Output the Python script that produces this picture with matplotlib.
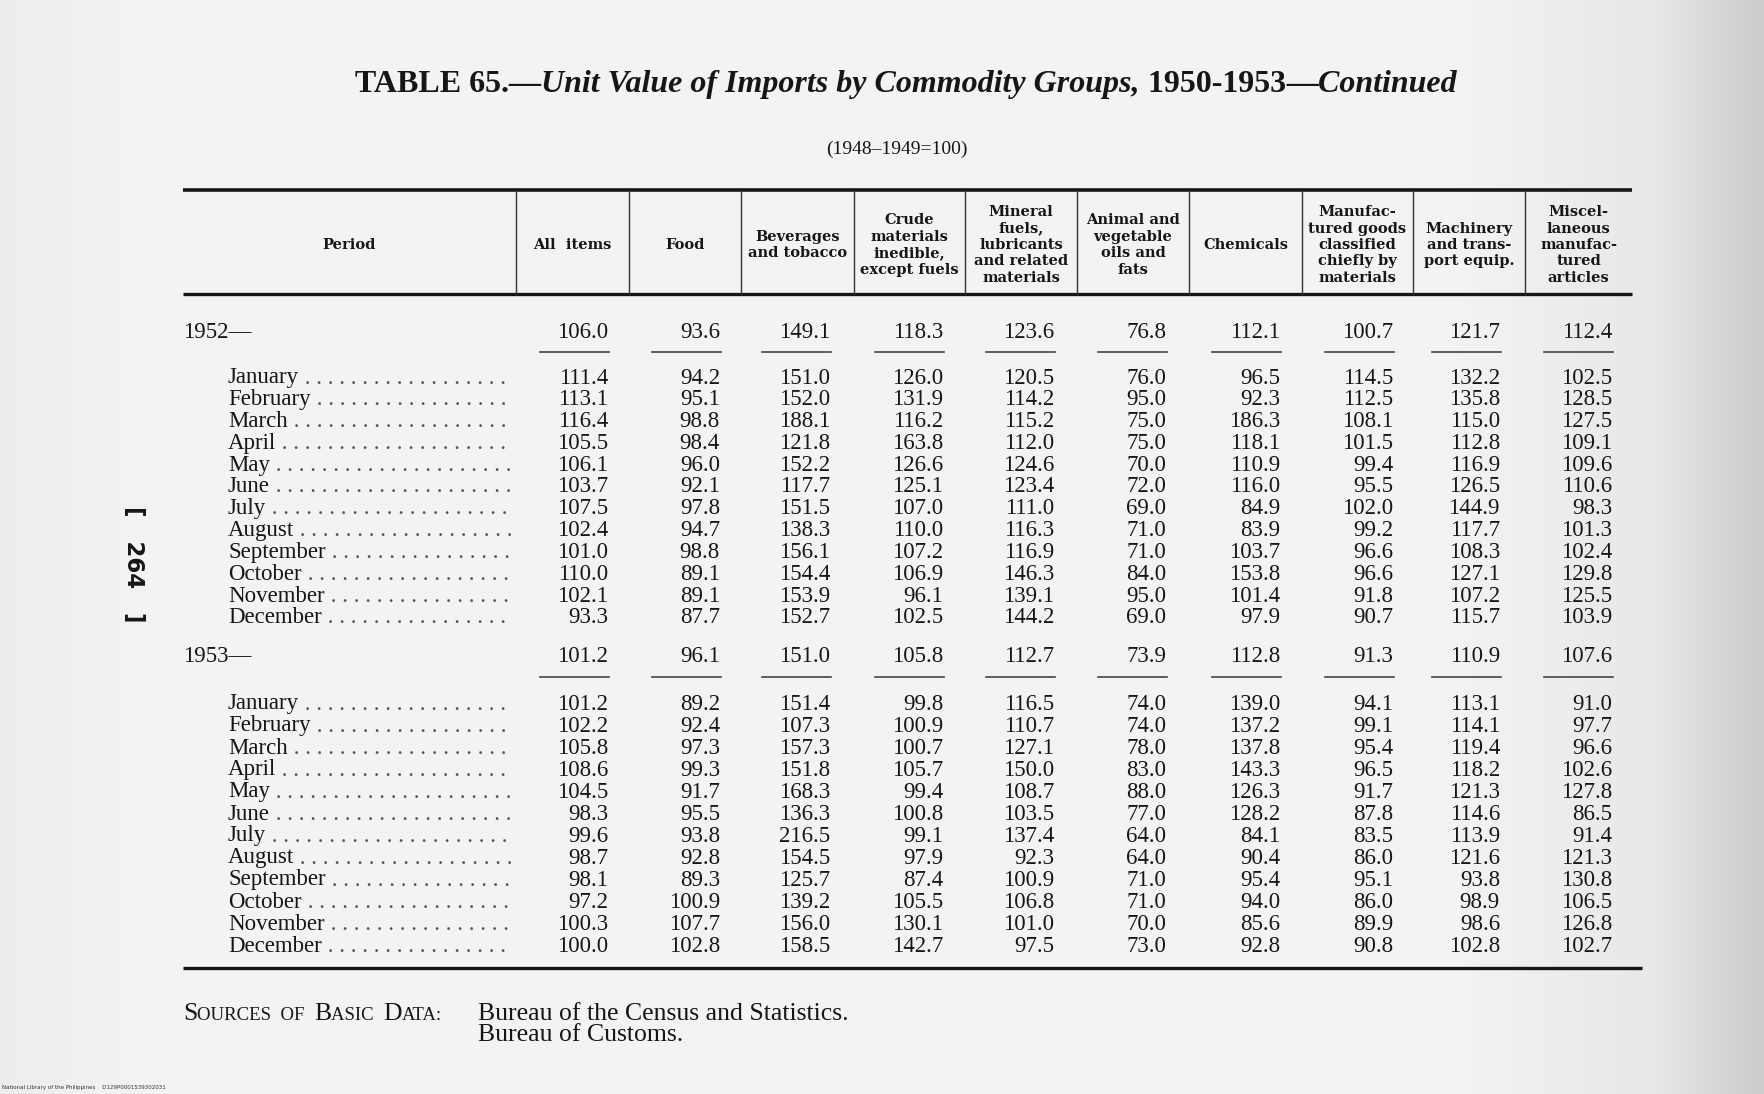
import numpy as np
import matplotlib
matplotlib.use("Agg")
import matplotlib.pyplot as plt

# ---------------- data ----------------
title_main = "TABLE 65.—"
title_ital = "Unit Value of Imports by Commodity Groups,"
title_years = " 1950-1953"
title_tail = "—Continued"
subtitle = "(1948–1949=100)"

headers = [
    "Period",
    "All  items",
    "Food",
    "Beverages\nand tobacco",
    "Crude\nmaterials\ninedible,\nexcept fuels",
    "Mineral\nfuels,\nlubricants\nand related\nmaterials",
    "Animal and\nvegetable\noils and\nfats",
    "Chemicals",
    "Manufac-\ntured goods\nclassified\nchiefly by\nmaterials",
    "Machinery\nand trans-\nport equip.",
    "Miscel-\nlaneous\nmanufac-\ntured\narticles",
]

months = ["January", "February", "March", "April", "May", "June", "July",
          "August", "September", "October", "November", "December"]

year_1952 = "1952—"
year_1953 = "1953—"

annual_1952 = [106.0, 93.6, 149.1, 118.3, 123.6, 76.8, 112.1, 100.7, 121.7, 112.4]
annual_1953 = [101.2, 96.1, 151.0, 105.8, 112.7, 73.9, 112.8, 91.3, 110.9, 107.6]

monthly_1952 = [
    [111.4, 94.2, 151.0, 126.0, 120.5, 76.0, 96.5, 114.5, 132.2, 102.5],
    [113.1, 95.1, 152.0, 131.9, 114.2, 95.0, 92.3, 112.5, 135.8, 128.5],
    [116.4, 98.8, 188.1, 116.2, 115.2, 75.0, 186.3, 108.1, 115.0, 127.5],
    [105.5, 98.4, 121.8, 163.8, 112.0, 75.0, 118.1, 101.5, 112.8, 109.1],
    [106.1, 96.0, 152.2, 126.6, 124.6, 70.0, 110.9, 99.4, 116.9, 109.6],
    [103.7, 92.1, 117.7, 125.1, 123.4, 72.0, 116.0, 95.5, 126.5, 110.6],
    [107.5, 97.8, 151.5, 107.0, 111.0, 69.0, 84.9, 102.0, 144.9, 98.3],
    [102.4, 94.7, 138.3, 110.0, 116.3, 71.0, 83.9, 99.2, 117.7, 101.3],
    [101.0, 98.8, 156.1, 107.2, 116.9, 71.0, 103.7, 96.6, 108.3, 102.4],
    [110.0, 89.1, 154.4, 106.9, 146.3, 84.0, 153.8, 96.6, 127.1, 129.8],
    [102.1, 89.1, 153.9, 96.1, 139.1, 95.0, 101.4, 91.8, 107.2, 125.5],
    [93.3, 87.7, 152.7, 102.5, 144.2, 69.0, 97.9, 90.7, 115.7, 103.9],
]

monthly_1953 = [
    [101.2, 89.2, 151.4, 99.8, 116.5, 74.0, 139.0, 94.1, 113.1, 91.0],
    [102.2, 92.4, 107.3, 100.9, 110.7, 74.0, 137.2, 99.1, 114.1, 97.7],
    [105.8, 97.3, 157.3, 100.7, 127.1, 78.0, 137.8, 95.4, 119.4, 96.6],
    [108.6, 99.3, 151.8, 105.7, 150.0, 83.0, 143.3, 96.5, 118.2, 102.6],
    [104.5, 91.7, 168.3, 99.4, 108.7, 88.0, 126.3, 91.7, 121.3, 127.8],
    [98.3, 95.5, 136.3, 100.8, 103.5, 77.0, 128.2, 87.8, 114.6, 86.5],
    [99.6, 93.8, 216.5, 99.1, 137.4, 64.0, 84.1, 83.5, 113.9, 91.4],
    [98.7, 92.8, 154.5, 97.9, 92.3, 64.0, 90.4, 86.0, 121.6, 121.3],
    [98.1, 89.3, 125.7, 87.4, 100.9, 71.0, 95.4, 95.1, 93.8, 130.8],
    [97.2, 100.9, 139.2, 105.5, 106.8, 71.0, 94.0, 86.0, 98.9, 106.5],
    [100.3, 107.7, 156.0, 130.1, 101.0, 70.0, 85.6, 89.9, 98.6, 126.8],
    [100.0, 102.8, 158.5, 142.7, 97.5, 73.0, 92.8, 90.8, 102.8, 102.7],
]

sources_label = [("S", 18.5), ("OURCES  OF  ", 13.5), ("B", 18.5), ("ASIC  ", 13.5),
                 ("D", 18.5), ("ATA:", 13.5)]
sources_lines = ["Bureau of the Census and Statistics.", "Bureau of Customs."]
page_number = "[   264   ]"
footer_small = "National Library of the Philippines    D129P0001539302031"

# ---------------- layout ----------------
W, H = 1764, 1094
fig = plt.figure(figsize=(W / 100, H / 100), dpi=100)
ax = fig.add_axes([0, 0, 1, 1])
ax.set_xlim(0, W)
ax.set_ylim(H, 0)
ax.axis("off")

# paper background (scan shading)
xs = np.arange(W)
shade = np.interp(xs, [0, 150, 1450, 1650, 1764], [0.93, 0.955, 0.955, 0.91, 0.80])
bg = np.tile(shade, (40, 1))
ax.imshow(bg[..., None].repeat(3, axis=2), extent=[0, W, H, 0], aspect="auto",
          interpolation="bilinear", zorder=0)

INK = "#161616"
SERIF = "Liberation Serif"
HEADF = "DejaVu Serif"

renderer = fig.canvas.get_renderer()


def width_of(t):
    return t.get_window_extent(renderer=renderer).width


def draw_seq(pieces, x, y, ha="left", va="baseline"):
    objs = []
    total = 0
    for txt, kw in pieces:
        o = ax.text(0, y, txt, va=va, ha="left", color=INK, **kw)
        w = width_of(o)
        objs.append((o, w))
        total += w
    cx = x - total / 2 if ha == "center" else x
    for o, w in objs:
        o.set_x(cx)
        cx += w
    return total


# title
TFS = 23
draw_seq([
    (title_main, dict(family=SERIF, fontsize=TFS, fontweight="bold")),
    (title_ital, dict(family=SERIF, fontsize=TFS, fontweight="bold", style="italic")),
    (title_years, dict(family=SERIF, fontsize=TFS, fontweight="bold")),
    (title_tail, dict(family=SERIF, fontsize=TFS, fontweight="bold", style="italic")),
], 906, 92, ha="center")

ax.text(897, 149, subtitle, ha="center", va="center", family=SERIF, fontsize=14, color=INK)

# table rules
left, right = 183, 1632
top_rule, head_rule, bottom_rule = 190, 294, 968
ax.plot([left, right], [top_rule, top_rule], color=INK, lw=2.6, solid_capstyle="butt", zorder=3)
ax.plot([left, right], [head_rule, head_rule], color=INK, lw=2.4, solid_capstyle="butt", zorder=3)
ax.plot([left, right + 10], [bottom_rule, bottom_rule], color=INK, lw=2.4, solid_capstyle="butt", zorder=3)

col_sep = [516, 629, 741, 854, 965, 1077, 1189, 1302, 1413, 1525]
for xsep in col_sep:
    ax.plot([xsep, xsep], [top_rule, head_rule], color="#333333", lw=1.0, zorder=3)

bounds = [left] + col_sep + [right]
head_centers = [(bounds[i] + bounds[i + 1]) / 2 for i in range(len(bounds) - 1)]
for hc, htxt in zip(head_centers, headers):
    ax.text(hc, 245, htxt, ha="center", va="center", family=HEADF, fontsize=10.5,
            fontweight="bold", color=INK, linespacing=1.22, multialignment="center")

num_right = [608, 720, 830, 943, 1054, 1166, 1280, 1393, 1500, 1612]
NUMFS = 16.5

dot_probe = ax.text(0, 0, " ." * 10, family=SERIF, fontsize=NUMFS)
dot_w = width_of(dot_probe) / 10
dot_probe.remove()


def draw_block(year_label, annual, monthly, y_annual, y_line, y_first, step):
    ax.text(183, y_annual, year_label, ha="left", va="center", family=SERIF,
            fontsize=NUMFS, color=INK)
    for xr, v in zip(num_right, annual):
        ax.text(xr, y_annual, f"{v:.1f}", ha="right", va="center", family=SERIF,
                fontsize=NUMFS, color=INK)
        ax.plot([xr - 68, xr + 1], [y_line, y_line], color="#444444", lw=1.2, zorder=3)
    for i, (m, row) in enumerate(zip(months, monthly)):
        y = y_first + i * step
        t = ax.text(228, y, m, ha="left", va="center", family=SERIF, fontsize=NUMFS, color=INK)
        end = 228 + width_of(t)
        n = int((514 - end) / dot_w)
        ax.text(end, y, " ." * n, ha="left", va="center", family=SERIF, fontsize=NUMFS,
                color="#555555")
        for xr, v in zip(num_right, row):
            ax.text(xr, y, f"{v:.1f}", ha="right", va="center", family=SERIF,
                    fontsize=NUMFS, color=INK)


draw_block(year_1952, annual_1952, monthly_1952, 332, 352, 378, 21.8)
draw_block(year_1953, annual_1953, monthly_1953, 656, 677, 704, 22.0)

# sources
draw_seq([(t, dict(family=SERIF, fontsize=s)) for t, s in sources_label], 183, 1020)
ax.text(478, 1020, sources_lines[0], ha="left", va="baseline", family=SERIF, fontsize=18.5, color=INK)
ax.text(478, 1041, sources_lines[1], ha="left", va="baseline", family=SERIF, fontsize=18.5, color=INK)

# page number (rotated)
ax.text(133, 564, page_number, rotation=-90, ha="center", va="center", family="DejaVu Sans",
        fontsize=16.5, fontweight="bold", color=INK)

ax.text(2, 1088, footer_small, ha="left", va="center", family="DejaVu Sans", fontsize=4,
        color="#333333")

fig.savefig("out.png", dpi=100)
